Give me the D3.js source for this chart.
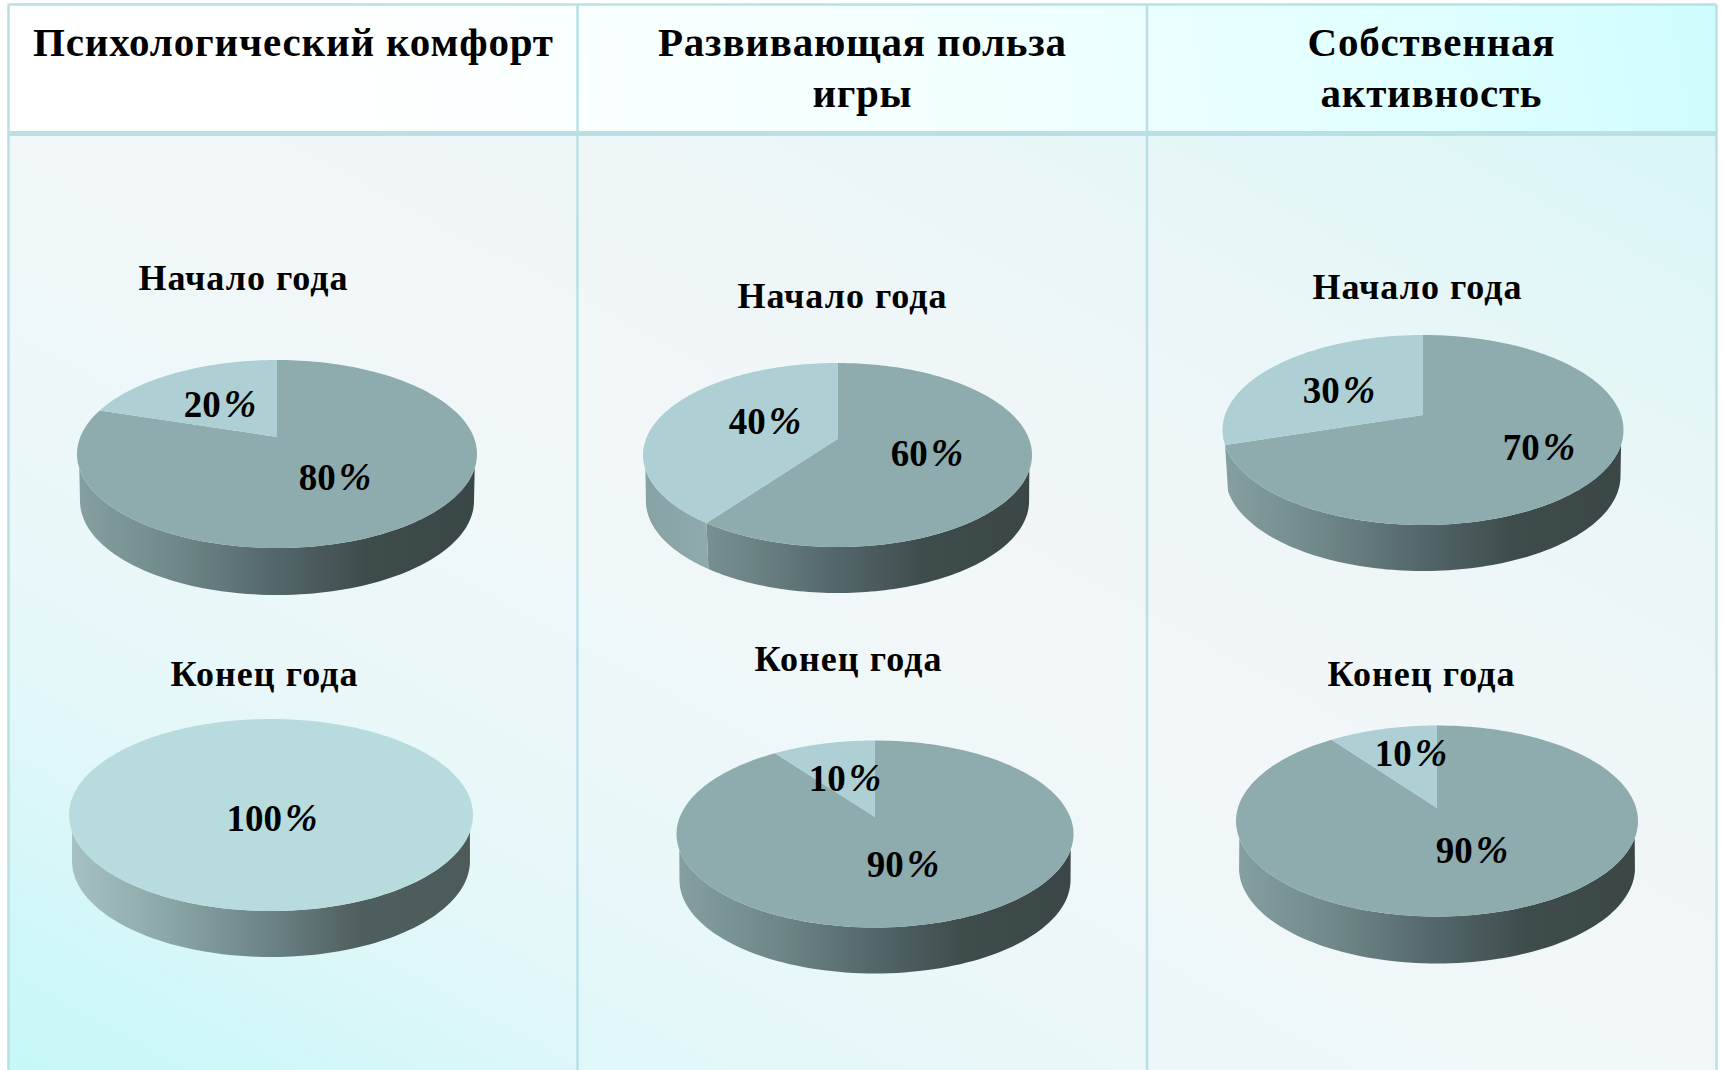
<!DOCTYPE html>
<html lang="ru">
<head>
    <meta charset="UTF-8">
    <title>Диаграммы</title>
    <script src="https://d3js.org/d3.v7.min.js"></script>
    <style>
        html, body { margin: 0; padding: 0; background: #fff; overflow: hidden; }
        svg { display: block; }
        text { font-family: "Liberation Serif", serif; font-weight: bold; fill: #000; }
    </style>
</head>
<body>
    <svg width="1723" height="1070"></svg>

    <script>
        // values
        const headerLines = [["Психологический комфорт"], ["Развивающая польза", "игры"], ["Собственная", "активность"]];
        const periods = ["Начало года", "Конец года"];
        const startMain = [80, 60, 70];
        const startOther = [20, 40, 30];
        const endMain = [100, 90, 90];
        const endOther = [0, 10, 10];

        // layout: one row per pie, start row then end row
        const pieBoxes = [
            { cx: 277, cy: 454, rx: 200, ry: 94, apex: -17, depth: 47 },
            { cx: 837.5, cy: 455, rx: 194.5, ry: 92, apex: -16, depth: 46 },
            { cx: 1423, cy: 430, rx: 200.5, ry: 95, apex: -15, depth: 46 },
            { cx: 271, cy: 815, rx: 202, ry: 96, apex: 0, depth: 46 },
            { cx: 875, cy: 834, rx: 198.5, ry: 93.5, apex: -17, depth: 46 },
            { cx: 1437, cy: 821, rx: 201, ry: 95.5, apex: -13, depth: 47 }
        ];
        const mainLabelPos = [[335, 490], [927, 466], [1539, 460], [272, 831], [903, 877], [1472, 863]];
        const otherLabelPos = [[220, 417], [765, 434], [1339, 403], null, [845, 791], [1411, 766]];
        const periodPos = [[243, 290, 209], [842, 308, 209], [1417, 299, 209], [264, 686, 187], [848, 671, 187], [1421, 686, 187]];
        const headerPos = [
            [[293, 56, 520]],
            [[862, 56, 408], [862, 107, 99]],
            [[1431, 56, 247], [1431, 107, 221]]
        ];

        const colLines = [8.5, 577.5, 1147, 1716.5];
        const topY = 4.5, headY = 133.5, bottomY = 1070;

        const mainColor = "#8eabae", otherColor = "#aecfd3", fullColor = "#b8dcde";
        const lineColor = "#b9e0e4";

        const svg = d3.select("svg");
        const defs = svg.append("defs");

        function linearGradient(id, ends, stops) {
            const g = defs.append("linearGradient").attr("id", id)
                .attr("gradientUnits", "userSpaceOnUse")
                .attr("x1", ends[0]).attr("y1", ends[1]).attr("x2", ends[2]).attr("y2", ends[3]);
            stops.forEach(s => g.append("stop").attr("offset", s[0]).attr("stop-color", s[1]));
        }
        linearGradient("headBg", [100, 300, 1717, 0], [[0, "#ffffff"], [0.15, "#ffffff"], [0.55, "#f2ffff"], [0.8, "#e2ffff"], [1, "#cffcfe"]]);
        linearGradient("bodyBg", [467, 1321, 1257, -119], [
            [0, "#c6f8f8"], [0.1, "#d3f7f8"], [0.19, "#e1f7f9"], [0.27, "#e8f7f9"], [0.4, "#eef7f9"],
            [0.52, "#f2f7f9"], [0.66, "#eff6f8"], [0.78, "#eaf6f8"], [1, "#d9f6f7"]
        ]);

        const wallStops = {
            main: [[0, "#86a0a1"], [0.25, "#6f8788"], [0.5, "#53666a"], [0.72, "#3f4c4c"], [1, "#3b4747"]],
            other: [[0, "#86a2a4"], [0.2, "#90acae"], [1, "#90acae"]],
            full: [[0, "#a6c2c3"], [0.25, "#8ba6a7"], [0.5, "#6b8285"], [0.72, "#4f5e5e"], [1, "#4c5a5a"]]
        };

        // cell backgrounds
        svg.append("rect").attr("x", colLines[0]).attr("y", topY)
            .attr("width", colLines[3] - colLines[0]).attr("height", headY - topY)
            .attr("fill", "url(#headBg)");
        svg.append("rect").attr("x", colLines[0]).attr("y", headY)
            .attr("width", colLines[3] - colLines[0]).attr("height", bottomY - headY)
            .attr("fill", "url(#bodyBg)");

        // table rules
        svg.selectAll("line.col").data(colLines).enter().append("line")
            .attr("class", "col")
            .attr("x1", d => d).attr("x2", d => d)
            .attr("y1", topY).attr("y2", bottomY)
            .attr("stroke", lineColor).attr("stroke-width", 2.5);
        svg.append("line").attr("x1", colLines[0]).attr("x2", colLines[3])
            .attr("y1", topY).attr("y2", topY)
            .attr("stroke", lineColor).attr("stroke-width", 2.5);
        svg.append("line").attr("x1", colLines[0]).attr("x2", colLines[3])
            .attr("y1", headY).attr("y2", headY)
            .attr("stroke", lineColor).attr("stroke-width", 5);

        // headers
        headerLines.forEach((lines, c) => {
            lines.forEach((txt, i) => {
                const p = headerPos[c][i];
                svg.append("text").attr("x", p[0]).attr("y", p[1])
                    .attr("text-anchor", "middle")
                    .attr("font-size", 41)
                    .attr("textLength", p[2]).attr("lengthAdjust", "spacing")
                    .text(txt);
            });
        });

        const pieGen = d3.pie().sort(null).value(d => d);
        const line = d3.line();

        // the top of the pie is a circle seen in perspective, so the centre sits above the ellipse middle
        function projector(b) {
            const k = -b.apex / b.ry;
            const r = b.rx * Math.sqrt(1 - k * k);
            return a => {
                const u = Math.sin(a), v = Math.cos(a), w = 1 + k * v;
                return [r * u / w, (-b.ry * v + b.apex) / w];
            };
        }

        const mains = startMain.concat(endMain);
        const others = startOther.concat(endOther);

        pieBoxes.forEach((b, i) => {
            const values = [mains[i], others[i]];
            const isFull = mains[i] === 100;
            const project = projector(b);
            const g = svg.append("g").attr("transform", `translate(${b.cx},${b.cy})`);

            const slices = pieGen(values).filter(s => s.value > 0).map((s, j) => {
                const n = 180;
                const pts = d3.range(n + 1).map(t => project(s.startAngle + (s.endAngle - s.startAngle) * t / n));
                return { s, pts, kind: isFull ? "full" : (j === 0 ? "main" : "other") };
            });

            // side wall first
            slices.forEach(d => {
                const gid = `wall${i}${d.kind}`;
                const grad = defs.append("linearGradient").attr("id", gid)
                    .attr("gradientUnits", "userSpaceOnUse")
                    .attr("x1", -b.rx).attr("x2", b.rx).attr("y1", 0).attr("y2", 0);
                wallStops[d.kind].forEach(s => grad.append("stop").attr("offset", s[0]).attr("stop-color", s[1]));

                const upper = d.pts.filter(p => p[1] >= b.ry * 0.15);
                const lower = d.pts.filter(p => p[1] >= 0).map(p => [p[0] * 0.985, p[1] + b.depth]);
                if (upper.length < 2) return;
                g.append("path")
                    .attr("d", line(upper.concat(lower.reverse())) + "Z")
                    .attr("fill", `url(#${gid})`);
            });

            // top face
            slices.forEach(d => {
                const outline = isFull ? d.pts : [[0, b.apex]].concat(d.pts);
                g.append("path")
                    .attr("d", line(outline) + "Z")
                    .attr("fill", isFull ? fullColor : (d.kind === "main" ? mainColor : otherColor));
            });

            // caption above the pie
            const cap = periodPos[i];
            svg.append("text").attr("x", cap[0]).attr("y", cap[1])
                .attr("text-anchor", "middle")
                .attr("font-size", 36)
                .attr("textLength", cap[2]).attr("lengthAdjust", "spacing")
                .text(periods[i < 3 ? 0 : 1]);
        });

        // percent labels go on top of all faces
        function percentLabel(value, pos) {
            const t = svg.append("text").attr("x", pos[0]).attr("y", pos[1])
                .attr("text-anchor", "middle").attr("font-size", 37);
            t.append("tspan").text(value);
            t.append("tspan").attr("font-style", "italic").attr("font-size", 39).attr("dx", 3).text("%");
        }
        mains.forEach((v, i) => percentLabel(v, mainLabelPos[i]));
        others.forEach((v, i) => { if (v > 0) percentLabel(v, otherLabelPos[i]); });
    </script>
</body>
</html>
